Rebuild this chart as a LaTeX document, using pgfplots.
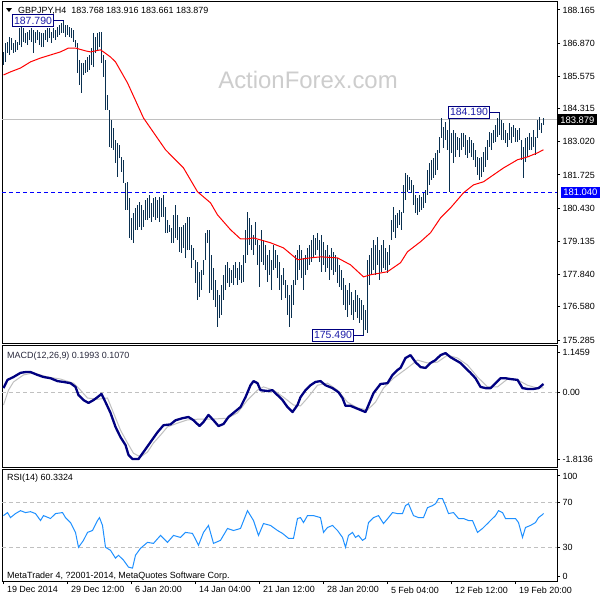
\documentclass[border=0pt]{standalone}
\usepackage{fontspec}
\setmainfont{Liberation Sans}
\usepackage{pgfplots}
\usepackage{pgfplotstable}
\pgfplotsset{compat=1.18}
\definecolor{barcol}{HTML}{0A3050}
\definecolor{annbox}{HTML}{000080}
\definecolor{anntext}{HTML}{1C1CA8}
\definecolor{gridg}{HTML}{C0C0C0}
\definecolor{wm}{RGB}{205,205,205}
\definecolor{macdc}{HTML}{000080}
\definecolor{rsic}{HTML}{1E90FF}

\pgfplotstableread{
i h l
0 186.53 186.02
1 186.88 186.14
2 186.92 186.49
3 187.11 186.41
4 187.07 186.61
5 186.88 186.49
6 187.00 186.53
7 186.92 186.61
8 187.46 186.80
9 187.50 186.72
10 187.46 186.92
11 187.27 186.88
12 187.31 186.80
13 187.39 187.00
14 187.46 186.92
15 187.39 186.49
16 187.31 186.88
17 187.39 187.00
18 187.31 186.80
19 187.27 186.72
20 187.27 186.72
21 187.39 187.00
22 187.46 186.92
23 187.46 187.07
24 187.31 186.88
25 187.46 187.07
26 187.39 187.00
27 187.50 187.11
28 187.58 187.19
29 187.66 187.27
30 187.79 187.27
31 187.58 187.11
32 187.58 187.19
33 187.50 187.11
34 187.46 187.07
35 187.39 186.92
36 187.00 186.72
37 186.88 185.71
38 186.22 185.24
39 186.10 184.93
40 186.10 185.63
41 186.22 185.71
42 186.33 185.75
43 186.41 185.83
44 186.68 186.02
45 187.27 185.94
46 187.11 186.49
47 187.27 186.61
48 187.31 186.72
49 187.31 186.10
50 186.41 185.55
51 186.22 184.27
52 184.85 184.27
53 184.27 182.82
54 183.88 182.78
55 183.56 182.71
56 183.10 182.20
57 182.98 181.65
58 182.90 182.39
59 182.43 181.85
60 182.32 181.42
61 181.42 180.37
62 181.46 180.37
63 180.83 179.27
64 180.05 179.20
65 180.25 179.08
66 180.44 179.59
67 180.56 179.59
68 180.68 179.70
69 180.56 179.59
70 180.37 179.70
71 180.76 179.98
72 180.83 179.98
73 180.95 180.05
74 180.64 179.90
75 180.83 180.09
76 180.87 179.98
77 180.76 180.05
78 180.87 179.90
79 180.83 180.09
80 180.95 180.09
81 180.48 179.47
82 179.98 179.47
83 179.78 179.51
84 179.66 179.08
85 180.17 179.08
86 180.56 179.27
87 180.17 179.20
88 179.70 178.73
89 179.70 178.69
90 179.78 178.88
91 179.86 178.49
92 180.09 178.81
93 180.09 178.81
94 179.00 178.10
95 178.88 178.42
96 178.42 177.52
97 178.34 176.86
98 177.95 176.97
99 178.03 177.25
100 178.42 177.83
101 179.47 178.42
102 179.59 179.08
103 179.59 177.13
104 178.61 177.25
105 178.10 176.86
106 177.64 176.58
107 177.25 175.80
108 177.05 176.15
109 177.44 176.27
110 177.83 176.86
111 178.22 177.25
112 178.34 177.52
113 178.10 177.36
114 178.03 177.52
115 178.22 177.44
116 178.34 177.71
117 178.10 177.44
118 178.34 177.64
119 178.22 177.52
120 178.61 177.56
121 179.59 178.30
122 180.29 178.61
123 180.05 179.00
124 179.78 178.81
125 179.39 178.61
126 179.90 179.00
127 179.20 178.22
128 179.00 177.36
129 179.59 178.34
130 179.20 178.22
131 179.00 178.03
132 178.61 177.56
133 178.81 177.83
134 178.42 177.25
135 179.00 178.03
136 178.81 178.10
137 178.61 177.71
138 178.34 177.25
139 177.83 176.86
140 178.10 177.44
141 177.64 176.93
142 177.44 176.27
143 177.05 175.80
144 177.44 176.15
145 177.64 176.66
146 178.61 177.44
147 178.81 177.64
148 179.00 178.03
149 178.81 177.71
150 178.49 177.25
151 178.61 177.83
152 178.88 178.03
153 179.00 178.22
154 179.20 178.34
155 179.39 178.49
156 179.27 178.61
157 179.47 178.81
158 179.20 178.34
159 179.39 177.95
160 179.12 178.22
161 178.81 177.95
162 179.00 178.10
163 178.61 177.64
164 178.88 178.03
165 178.73 177.83
166 178.61 177.95
167 178.49 177.52
168 178.22 177.36
169 178.03 177.25
170 177.71 176.66
171 177.44 176.47
172 177.25 176.19
173 177.52 176.66
174 177.17 176.27
175 176.86 176.08
176 177.25 176.39
177 177.05 176.15
178 176.93 175.96
179 176.86 176.08
180 176.66 175.49
181 176.47 175.68
182 178.42 175.57
183 178.61 177.44
184 178.88 177.83
185 179.20 178.03
186 179.00 177.83
187 179.31 178.22
188 178.81 177.64
189 179.00 177.95
190 179.20 178.10
191 178.88 178.03
192 178.73 177.91
193 179.00 178.22
194 179.98 179.20
195 180.48 179.51
196 180.17 179.27
197 180.25 179.66
198 180.37 179.78
199 180.29 179.59
200 181.34 180.25
201 181.81 180.76
202 181.73 181.07
203 181.65 181.15
204 181.54 181.03
205 181.34 180.56
206 180.95 180.25
207 180.83 180.17
208 180.95 180.29
209 180.87 180.37
210 181.03 180.44
211 181.15 180.64
212 181.93 180.95
213 182.20 181.34
214 182.32 181.54
215 182.39 181.61
216 182.59 181.73
217 182.71 181.93
218 183.21 182.59
219 183.95 183.17
220 183.60 182.78
221 183.80 183.10
222 183.49 182.71
223 184.07 181.07
224 183.37 182.59
225 183.49 182.20
226 183.37 182.43
227 183.21 182.71
228 183.17 182.43
229 183.37 182.71
230 183.37 182.82
231 183.29 182.51
232 183.10 182.39
233 183.21 182.59
234 183.10 182.43
235 182.98 182.32
236 182.71 182.04
237 182.43 181.73
238 182.39 181.54
239 182.43 181.65
240 182.63 181.85
241 182.82 182.04
242 183.10 182.32
243 183.41 182.82
244 183.37 182.71
245 183.49 182.98
246 183.68 183.02
247 183.95 183.21
248 184.19 183.29
249 183.88 183.10
250 183.76 183.10
251 183.49 182.98
252 183.37 182.82
253 183.76 183.10
254 183.60 182.98
255 183.68 183.21
256 183.56 183.02
257 183.49 183.02
258 183.56 183.10
259 183.10 182.32
260 182.82 181.61
261 183.17 182.24
262 183.21 182.43
263 183.37 182.71
264 183.21 182.71
265 183.49 182.82
266 183.21 182.51
267 183.88 183.17
268 183.99 183.49
269 183.76 183.37
270 183.95 183.68
}\bars

\pgfplotsset{mtpanel/.style={
  scale only axis, width=555bp, xmin=-0.75, xmax=276.75,
  anchor=north west, clip=false,
  axis line style={black, line width=1bp},
  xtick=\empty,
  ytick pos=right, yticklabel pos=right,
  tick align=outside, major tick length=3bp,
  tick style={black, line width=1bp},
  yticklabel style={font=\fontsize{9}{10}\selectfont, anchor=west, xshift=-1bp},
}}

\begin{document}
\begin{tikzpicture}
\path[use as bounding box, fill=white] (0bp,0bp) rectangle (600bp,-600bp);
\coordinate (pmain) at (2bp,-2bp);
\coordinate (pmacd) at (2bp,-345bp);
\coordinate (prsi) at (2bp,-469bp);

% watermark
\node[text=wm, font=\fontsize{24}{24}\selectfont] at (308bp,-80bp) {ActionForex.com};

% ---------------- main price panel
\begin{axis}[mtpanel, at={(pmain)}, height=341bp,
  ymin=175.168, ymax=188.477,
  ytick={175.285,176.580,177.840,179.135,180.430,181.725,183.020,184.315,185.575,186.870,188.165},
  yticklabels={175.285,176.580,177.840,179.135,180.430,181.725,183.020,184.315,185.575,186.870,188.165}]
\addplot[gridg, line width=1bp, forget plot] coordinates {(-0.75,183.879) (276.75,183.879)};
\addplot[blue, line width=1bp, dash pattern=on 4bp off 3bp, forget plot] coordinates {(-0.75,181.04) (276.75,181.04)};
\addplot[draw=none, mark=none, forget plot, error bars/.cd, y dir=plus, y explicit, error mark=none,
  error bar style={draw=barcol, solid, line width=1.15bp}]
  table[x=i, y=l, y error expr=\thisrow{h}-\thisrow{l}] {\bars};
\addplot[red, line width=1bp] coordinates {
(0,185.63) (3.5,185.75) (8.5,185.90) (13.5,186.14) (18.5,186.29) (23.5,186.41) (28.5,186.53)
(32.5,186.68) (36,186.68) (41,186.57) (43.5,186.53) (48.5,186.61) (50,186.53) (53.5,186.33)
(56,186.14) (62,185.32) (70,183.95) (81,182.71) (90,182.00) (97,181.07) (103.5,180.64)
(107,180.17) (113.5,179.59) (118.5,179.23) (122,179.23) (125,179.27) (133.5,179.08)
(140,178.88) (147,178.42) (153.5,178.49) (158.5,178.53) (167,178.49) (173.5,178.22)
(180,177.75) (183.5,177.83) (192,177.95) (198.5,178.30) (202,178.73) (208.5,179.12)
(213.5,179.47) (218.5,180.05) (223.5,180.44) (230,181.03) (235,181.34) (240,181.46)
(243.5,181.65) (250,182.00) (257,182.32) (262,182.43) (267,182.59) (270,182.71)};
% annotations
\node[draw=annbox, fill=white, text=anntext, font=\fontsize{10.5}{11}\selectfont, inner xsep=1.5bp, inner ysep=0bp, minimum height=12bp, line width=1bp] (a1) at (axis cs:14.75,187.755) {187.790};
\draw[annbox, line width=1bp] (a1.east) -- (axis cs:30,187.755) -- (axis cs:30,187.79);
\node[draw=annbox, fill=white, text=anntext, font=\fontsize{10.5}{11}\selectfont, inner xsep=1.5bp, inner ysep=0bp, minimum height=12bp, line width=1bp] (a2) at (axis cs:232.75,184.17) {184.190};
\draw[annbox, line width=1bp] (a2.east) -- (axis cs:248,184.17) -- (axis cs:248,184.19);
\node[draw=annbox, fill=white, text=anntext, font=\fontsize{10.5}{11}\selectfont, inner xsep=1.5bp, inner ysep=0bp, minimum height=12bp, line width=1bp] (a3) at (axis cs:164.75,175.47) {175.490};
\draw[annbox, line width=1bp] (a3.east) -- (axis cs:180,175.47) -- (axis cs:180,175.49);
% price boxes
\node[anchor=west, fill=black, text=white, font=\fontsize{9.5}{10}\selectfont, inner xsep=2bp, inner ysep=2bp] at (axis cs:277.3,183.879) {183.879};
\node[anchor=west, fill=blue, text=white, font=\fontsize{9.5}{10}\selectfont, inner xsep=2bp, inner ysep=2bp] at (axis cs:278.8,181.04) {181.040};
\end{axis}

\fill (6bp,-8bp) -- (12bp,-8bp) -- (9bp,-12bp) -- cycle;
\node[anchor=base west, font=\fontsize{9}{10}\selectfont, inner sep=0pt] at (18bp,-13.5bp) {GBPJPY,H4\ \ 183.768 183.916 183.661 183.879};

% ---------------- MACD panel
\begin{axis}[mtpanel, at={(pmacd)}, height=122bp,
  ymin=-1.8136, ymax=1.1459,
  ytick={0.976,0,-1.621}, yticklabels={1.1459,0.00,-1.8136}]
\addplot[gridg, line width=1bp, dash pattern=on 4bp off 3bp, forget plot] coordinates {(-0.75,0) (276.75,0)};
\addplot[gridg, line width=1bp] coordinates {
(0,-0.31) (2.5,0.05) (5,0.25) (10,0.42) (15,0.47) (22,0.37) (28.5,0.32) (35,0.22) (38.5,0.05)
(42,-0.14) (47,-0.17) (52,-0.14) (55,-0.50) (58.5,-0.92) (62,-1.23) (65,-1.48) (68.5,-1.57)
(72,-1.45) (75,-1.23) (78.5,-1.04) (82,-0.84) (87,-0.75) (92,-0.67) (98.5,-0.65) (105,-0.65)
(112,-0.63) (117,-0.50) (122,-0.19) (127,0.05) (130,0.13) (135,0.05) (140,-0.12) (145,-0.31)
(148.5,-0.33) (152,-0.14) (157,0.17) (162,0.22) (167,0.05) (172,-0.24) (177,-0.38) (182,-0.43)
(186,-0.24) (190,0.10) (195,0.34) (202,0.59) (207,0.78) (212,0.71) (217,0.73) (222,0.90)
(227,0.83) (232,0.66) (237,0.37) (242,0.13) (247,0.13) (252,0.32) (257,0.30) (262,0.17)
(267,0.10) (270,0.107)};
\addplot[macdc, line width=2.3bp, line join=round] coordinates {
(0,0.10) (2,0.30) (5,0.37) (8.5,0.47) (11,0.49) (13.5,0.49) (17,0.42) (20,0.37) (23.5,0.34)
(27,0.27) (30,0.25) (33.5,0.22) (36,0.13) (37.5,-0.07) (40,-0.19) (42.5,-0.26) (45,-0.19)
(47,-0.12) (49,-0.04) (51,-0.24) (53.5,-0.50) (56,-0.84) (58.5,-1.09) (61,-1.28) (62.5,-1.52)
(64.5,-1.62) (67.5,-1.62) (70,-1.45) (73.5,-1.21) (77,-0.97) (80,-0.80) (83.5,-0.78) (86,-0.68)
(89.5,-0.63) (92.5,-0.60) (95,-0.68) (98,-0.82) (100,-0.72) (102.5,-0.55) (105,-0.68)
(107.5,-0.82) (110,-0.77) (112.5,-0.60) (115,-0.50) (118.5,-0.36) (121,-0.12) (123.5,0.17)
(125,0.27) (127,0.22) (128.5,0.05) (132,0.03) (134.5,0.05) (137,-0.07) (139.5,-0.19)
(142,-0.36) (144.5,-0.48) (147,-0.31) (148.5,-0.12) (151,0.05) (153.5,0.17) (156,0.25)
(158.5,0.27) (161,0.17) (164.5,0.10) (167.5,0.00) (169.5,-0.14) (171,-0.33) (173.5,-0.33)
(176,-0.38) (178.5,-0.43) (181,-0.48) (182.5,-0.31) (185,-0.02) (188.5,0.20) (192,0.22)
(194.5,0.42) (197,0.54) (198.5,0.59) (201,0.83) (203.5,0.90) (206,0.73) (208.5,0.61)
(211,0.59) (213.5,0.71) (216,0.78) (218.5,0.90) (221,0.95) (223.5,0.85) (226,0.78)
(228.5,0.71) (231,0.59) (233.5,0.47) (236,0.34) (238.5,0.13) (241,0.10) (243.5,0.10)
(246,0.22) (248.5,0.34) (251,0.34) (253.5,0.32) (257,0.30) (259.5,0.10) (262,0.08)
(265,0.08) (267.5,0.10) (270,0.20)};
\end{axis}
\node[anchor=base west, font=\fontsize{9}{10}\selectfont, inner sep=0pt, text={rgb,255:red,40;green,40;blue,60}] at (7bp,-358.5bp) {MACD(12,26,9) 0.1993 0.1070};

% ---------------- RSI panel
\begin{axis}[mtpanel, at={(prsi)}, height=112bp,
  ymin=0, ymax=100,
  ytick={93.8,70,30,4.4}, yticklabels={100,70,30,0},
  xtick={0,32,64,96,128,160,192,224,256},
  xtick pos=bottom, xticklabel pos=bottom,
  xticklabels={19 Dec 2014,29 Dec 12:00,6 Jan 20:00,14 Jan 04:00,21 Jan 12:00,28 Jan 20:00,5 Feb 04:00,12 Feb 12:00,19 Feb 20:00},
  xticklabel style={font=\fontsize{9}{10}\selectfont, anchor=north west, xshift=0bp, yshift=1bp}]
\addplot[gridg, line width=1bp, dash pattern=on 4bp off 3bp, forget plot] coordinates {(-0.75,70) (276.75,70)};
\addplot[gridg, line width=1bp, dash pattern=on 4bp off 3bp, forget plot] coordinates {(-0.75,30) (276.75,30)};
\addplot[rsic, line width=1bp] coordinates {
(0,58.4) (2,61.1) (3.5,56.6) (6,60.2) (8.5,62.8) (11,61.1) (13.5,61.9) (16,60.2) (18.5,54.0)
(20,58.4) (23.5,55.8) (26,60.2) (29.5,61.1) (31,56.6) (33.5,52.2) (36,43.4) (37.5,30.1)
(40,36.3) (42,43.4) (44.5,45.1) (47,54.0) (48,56.6) (49.5,49.6) (51,30.1) (53.5,27.4)
(56,20.4) (57.5,23.0) (60,18.6) (62.5,12.4) (64.5,11.5) (66,23.0) (68.5,29.2) (72,34.5)
(75,33.6) (78.5,40.7) (82,34.5) (85,40.7) (88.5,38.9) (91,43.4) (94.5,42.5) (97.5,31.9)
(100,43.4) (102.5,49.6) (105,33.6) (108.5,36.3) (112,46.9) (115,45.1) (118.5,46.9)
(122,62.8) (125,54.0) (127.5,40.7) (130,51.3) (133.5,49.6) (137,45.1) (139.5,42.5)
(142.5,38.1) (145,38.1) (147,55.8) (148.5,56.6) (150,52.2) (152,58.4) (155,58.4)
(158.5,56.6) (160,43.4) (162,47.8) (164.5,49.6) (167,45.1) (169.5,38.9) (171,30.1)
(172.5,40.7) (174.5,43.4) (176,38.9) (177.5,40.7) (179.5,36.3) (181,38.1) (182.5,52.2)
(185,56.6) (187.5,58.4) (190,51.3) (192.5,56.6) (194.5,61.1) (197,60.2) (199.5,60.2)
(201,67.3) (202.5,69.0) (205,58.4) (207.5,56.6) (210,56.6) (212,65.5) (214.5,67.3)
(216,69.0) (217.5,73.5) (219.5,73.5) (221,67.3) (222.5,60.2) (225,61.1) (227.5,55.8)
(230,55.8) (232.5,54.0) (234.5,54.0) (237,43.4) (239.5,46.9) (242,51.3) (244.5,55.8)
(246,58.4) (247.5,62.8) (249.5,61.1) (251,55.8) (253.5,55.8) (256,55.8) (257.5,52.2)
(259.5,38.9) (261,47.8) (263.5,49.6) (266,52.2) (267.5,56.6) (269.5,59.3) (270,60.33)};
\end{axis}
\node[anchor=base west, font=\fontsize{9}{10}\selectfont, inner sep=0pt] at (7bp,-480bp) {RSI(14) 60.3324};
\node[anchor=base west, font=\fontsize{9}{10}\selectfont, inner sep=0pt] at (7bp,-578bp) {MetaTrader 4, ?2001-2014, MetaQuotes Software Corp.};
\end{tikzpicture}
\end{document}
